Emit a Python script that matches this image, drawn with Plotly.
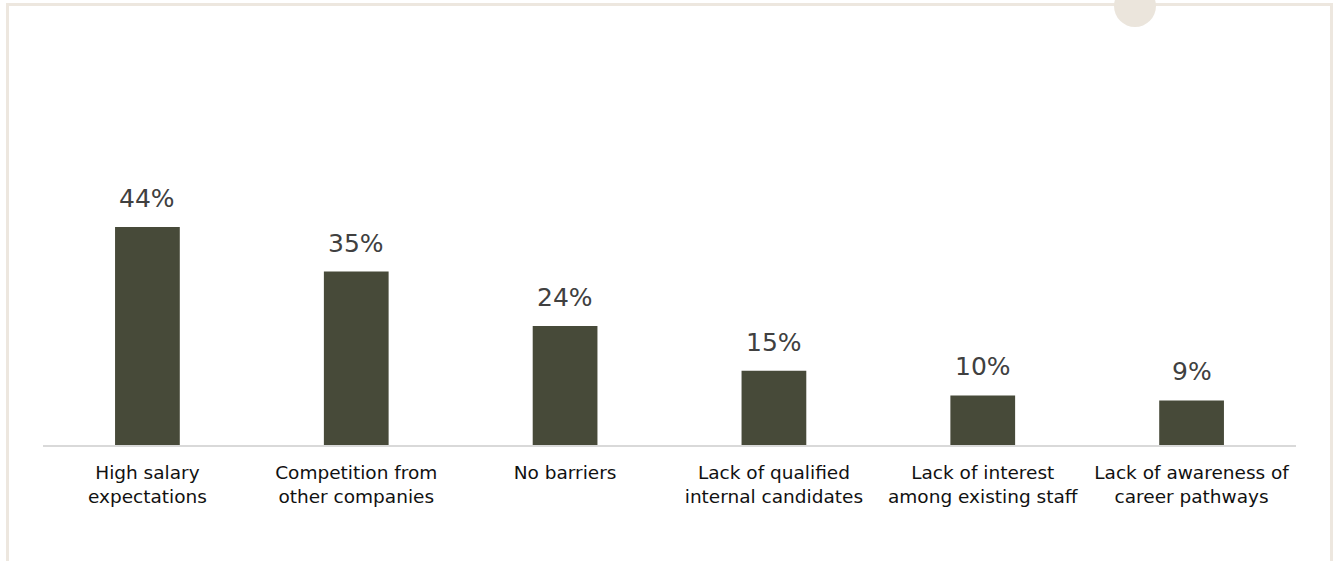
import plotly.graph_objects as go

categories = [
    "High salary<br>expectations",
    "Competition from<br>other companies",
    "No barriers",
    "Lack of qualified<br>internal candidates",
    "Lack of interest<br>among existing staff",
    "Lack of awareness of<br>career pathways",
]
values = [44, 35, 24, 15, 10, 9]
value_labels = ["44%", "35%", "24%", "15%", "10%", "9%"]

W, H = 1334, 561
bar_color = "#474A39"
frame_color = "#EDE7DF"


def px_x(x):
    return x / W


def px_y(y):
    return 1 - y / H


fig = go.Figure()
fig.add_trace(go.Bar(
    x=categories, y=values,
    marker=dict(color=bar_color, line=dict(width=0)),
    hoverinfo="skip",
))

for c, v, t in zip(categories, values, value_labels):
    fig.add_annotation(x=c, y=v, text=t, showarrow=False, yanchor="bottom",
                       yshift=12, font=dict(family="DejaVu Sans", size=25, color="#404040"))

base_y = 445
plot_top = base_y - 50 * 4.955
fig.update_layout(
    width=W, height=H,
    margin=dict(l=0, r=0, t=0, b=0),
    paper_bgcolor="white", plot_bgcolor="white",
    bargap=0.69,
    showlegend=False,
    xaxis=dict(domain=[px_x(43), px_x(1296)], showgrid=False, showline=True,
               linecolor="#D9D9D9", linewidth=1.5, ticks="", automargin=False,
               ticklabelstandoff=10,
               tickfont=dict(family="DejaVu Sans", size=18.5, color="#111111")),
    yaxis=dict(domain=[px_y(base_y), px_y(plot_top)], range=[0, 50], visible=False,
               showgrid=False, zeroline=False, automargin=False),
    shapes=[
        dict(type="rect", xref="paper", yref="paper",
             x0=px_x(7.5), x1=px_x(1331.5), y0=-0.2, y1=px_y(4.5),
             line=dict(color=frame_color, width=3), fillcolor="rgba(0,0,0,0)", layer="below"),
        dict(type="circle", xref="paper", yref="paper",
             x0=px_x(1135 - 21), x1=px_x(1135 + 21), y0=px_y(27), y1=px_y(-15),
             line=dict(width=0), fillcolor="#EBE5DC", layer="below"),
    ],
)

fig.write_html(
    "out.html",
    config={"displayModeBar": False},
    post_script="document.body.style.margin='0';document.body.style.overflow='hidden';",
)
